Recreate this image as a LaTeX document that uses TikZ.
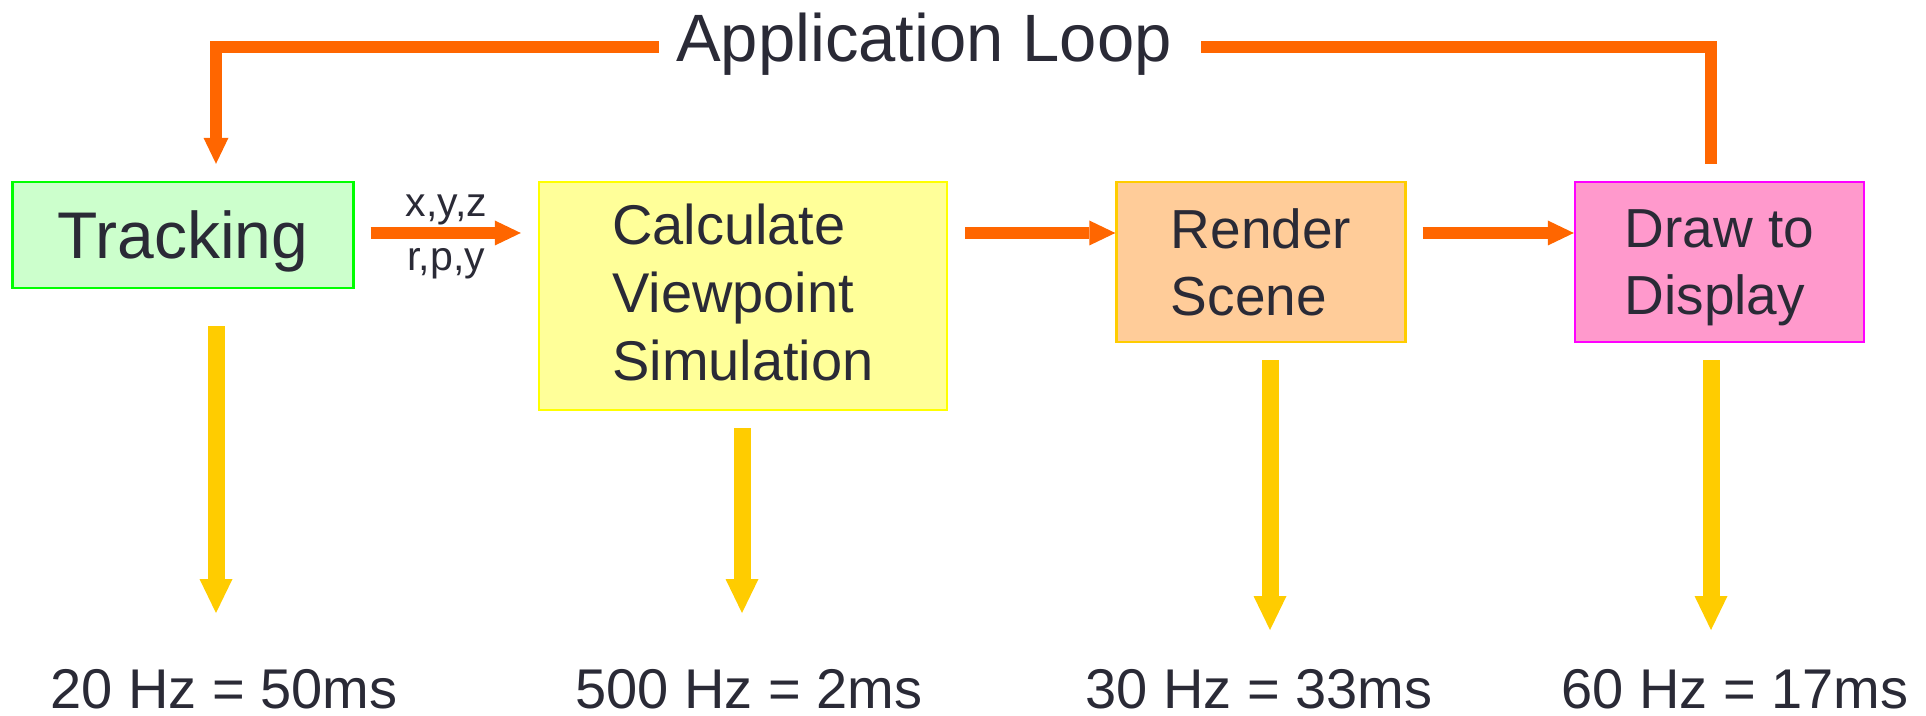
\documentclass[tikz,border=0pt]{standalone}
\usepackage{fontspec}
\setmainfont{Liberation Sans}
\usetikzlibrary{arrows.meta}

\definecolor{txt}{RGB}{42,42,54}
\definecolor{loopc}{RGB}{255,102,0}
\definecolor{ratec}{RGB}{255,204,0}

\begin{document}
\begin{tikzpicture}[x=0.5pt, y=-0.5pt,
  box/.style={draw, line width=1.2pt, align=left, text=txt, inner sep=0pt, text depth=0pt},
  loopline/.style={draw=loopc, line width=6pt},
  flow/.style={loopline, -{Triangle[width=12.5pt, length=13pt, line width=0pt]}},
  down/.style={draw=ratec, line width=8.5pt, -{Triangle[width=16.5pt, length=17pt, line width=0pt]}},
  hz/.style={text=txt, inner sep=0pt, anchor=base, font=\fontsize{28}{34}\selectfont},
  lbl/.style={text=txt, inner sep=0pt, outer sep=0pt, font=\fontsize{20.5}{24}\selectfont}]
  \useasboundingbox (0,0) rectangle (1926,716);

  \node[box, fill={rgb,255:red,204;green,255;blue,204}, draw={rgb,255:red,0;green,255;blue,0},
        minimum width=170.5pt, minimum height=53pt, font=\fontsize{33}{40}\selectfont]
        (trk) at (183,235) {Tracking};
  \node[box, fill={rgb,255:red,255;green,255;blue,153}, draw={rgb,255:red,255;green,255;blue,0},
        minimum width=204pt, minimum height=114pt, text depth=4pt, font=\fontsize{28}{34}\selectfont]
        (calc) at (743,296) {Calculate\\Viewpoint\\Simulation};
  \node[box, fill={rgb,255:red,255;green,204;blue,153}, draw={rgb,255:red,255;green,204;blue,0},
        minimum width=144.5pt, minimum height=80pt, font=\fontsize{27.5}{33.5}\selectfont]
        (rend) at (1261,262) {Render\\Scene};
  \node[box, fill={rgb,255:red,255;green,153;blue,204}, draw={rgb,255:red,255;green,0;blue,255},
        minimum width=144.5pt, minimum height=80pt, font=\fontsize{27.5}{33.5}\selectfont]
        (disp) at (1719.5,262) {Draw to\\Display};

  \node[text=txt, inner sep=0pt, text height=24.5pt, text depth=9.5pt,
        font=\fontsize{33.5}{40}\selectfont] (title) at (924,47) {Application Loop};

  \node[hz] (r1) at (224,708)  {20 Hz = 50ms};
  \node[hz] (r2) at (749,708)  {500 Hz = 2ms};
  \node[hz] (r3) at (1259,708) {30 Hz = 33ms};
  \node[hz] (r4) at (1735,708) {60 Hz = 17ms};

  % ends of the down arrows
  \coordinate (a1) at (216,613);
  \coordinate (a2) at (742,613);
  \coordinate (a3) at (1270,630);
  \coordinate (a4) at (1711,630);
  \coordinate (ay) at ([yshift=1pt]trk.east);

  \draw[flow, shorten <=8pt, shorten >=8.5pt] (ay) -- (ay -| calc.west)
        node[midway, above=4pt, lbl] {x,y,z}
        node[midway, below=7.5pt, lbl] {r,p,y};
  \draw[flow, shorten <=8.5pt] (calc.east |- ay) -- (rend.west |- ay);
  \draw[flow, shorten <=8pt] (rend.east |- ay) -- (disp.west |- ay);

  \draw[loopline, shorten <=8.5pt] (disp.north -| a4) |- ([xshift=14.5pt]title.east);
  \draw[flow, shorten >=8.5pt] ([xshift=-8.5pt]title.west) -| (trk.north -| a1);

  \draw[down, shorten <=18.5pt] (trk.south -| a1) -- (a1);
  \draw[down, shorten <=8.5pt] (calc.south -| a2) -- (a2);
  \draw[down, shorten <=8.5pt] (rend.south -| a3) -- (a3);
  \draw[down, shorten <=8.5pt] (disp.south -| a4) -- (a4);
\end{tikzpicture}
\end{document}
